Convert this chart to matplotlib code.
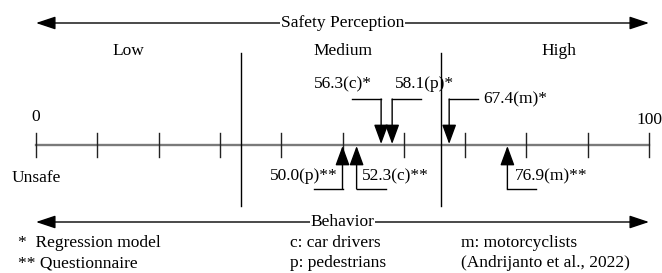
import matplotlib

matplotlib.use("Agg")
import matplotlib.pyplot as plt

plt.rcParams["font.family"] = ["Liberation Serif", "DejaVu Serif"]
plt.rcParams["font.size"] = 12.5

# scale 0..100, ticks every 10
scale_ticks = list(range(0, 101, 10))
level_names = ["Low", "Medium", "High"]
level_centers = [15.0, 50.0, 85.3]
level_bounds = [33.4, 66.1]

# regression model results (arrows above the line)
model_values = [56.3, 58.1, 67.4]
model_labels = ["56.3(c)*", "58.1(p)*", "67.4(m)*"]

# questionnaire results (arrows below the line)
survey_values = [50.0, 52.3, 76.9]
survey_labels = ["50.0(p)**", "52.3(c)**", "76.9(m)**"]

footnotes_left = ["*  Regression model", "** Questionnaire"]
footnotes_mid = ["c: car drivers", "p: pedestrians"]
footnotes_right = ["m: motorcyclists", "(Andrijanto et al., 2022)"]

W, H = 662, 273
X0, X100 = 36, 649
PX = 100 / (X100 - X0)  # scale units per pixel
AXIS_Y = 145


def px(n):
    return n * PX


fig = plt.figure(figsize=(W / 100, H / 100), dpi=100)
ax = fig.add_axes([0, 0, 1, 1])
ax.set_xlim(-X0 * PX, (W - X0) * PX)
ax.set_ylim(H, 0)
ax.axis("off")

head = "-|>,head_length=0.6,head_width=0.22"
both = "<|-|>,head_length=0.6,head_width=0.2"


def span_arrow(y, label):
    ax.annotate("", xy=(scale_ticks[-1], y), xytext=(scale_ticks[0], y),
                arrowprops=dict(arrowstyle=both, mutation_scale=20, color="black",
                                lw=1, shrinkA=0, shrinkB=0))
    ax.text(50, y, label, ha="center", va="center", zorder=5,
            bbox=dict(facecolor="white", edgecolor="none", pad=0.3))


span_arrow(23, "Safety Perception")
span_arrow(222, "Behavior")

# main scale
ax.plot([scale_ticks[0], scale_ticks[-1]], [AXIS_Y, AXIS_Y], color="#7a7a7a", lw=1.7)
for t in scale_ticks:
    ax.plot([t, t], [AXIS_Y - 12, AXIS_Y + 12], color="#222222", lw=1)
ax.text(scale_ticks[0], 117, "0", ha="center", va="center")
ax.text(scale_ticks[-1], 120, "100", ha="center", va="center")
ax.text(scale_ticks[0] - px(24), 178, "Unsafe", ha="left", va="center")

for b in level_bounds:
    ax.plot([b, b], [53, 206], color="black", lw=1)
for name, c in zip(level_names, level_centers):
    ax.text(c, 51, name, ha="center", va="center")

# elbow layout: (horizontal direction, text anchor, text dx px, text y)
model_layout = [(-1, "center", -38, 84), (1, "center", 32, 84), (1, "left", 34, 99)]
survey_layout = [(-1, "right", -5, 176), (1, "left", 5, 176), (1, "left", 7, 176)]


def elbow(v, label, layout, tail_y, tip_y):
    direction, anchor, dx, ty = layout
    ax.plot([v, v + direction * px(29)], [tail_y, tail_y], color="black", lw=1)
    ax.annotate("", xy=(v, tip_y), xytext=(v, tail_y),
                arrowprops=dict(arrowstyle=head, mutation_scale=20, color="black",
                                lw=1, shrinkA=0, shrinkB=0))
    ax.text(v + px(dx), ty, label, ha=anchor, va="center")


for v, lab, lay in zip(model_values, model_labels, model_layout):
    elbow(v, lab, lay, 99, AXIS_Y - 1)
for v, lab, lay in zip(survey_values, survey_labels, survey_layout):
    elbow(v, lab, lay, 189, AXIS_Y + 1)

for i, (a, b, c) in enumerate(zip(footnotes_left, footnotes_mid, footnotes_right)):
    y = 243 + 20 * i
    ax.text(-X0 * PX + px(18), y, a, ha="left", va="center")
    ax.text(-X0 * PX + px(290), y, b, ha="left", va="center")
    ax.text(-X0 * PX + px(461), y, c, ha="left", va="center")

fig.savefig("out.png", dpi=100)
